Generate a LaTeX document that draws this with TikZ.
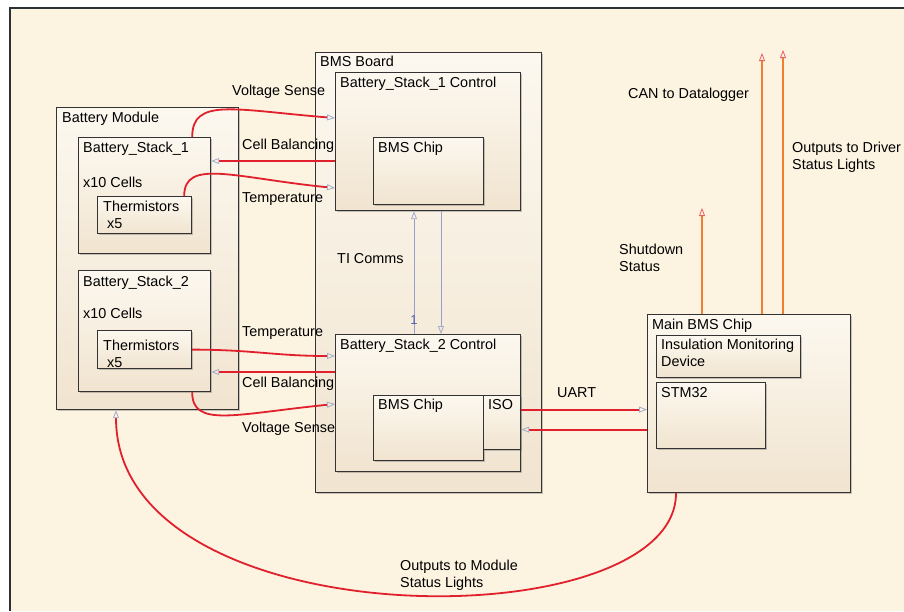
\documentclass[tikz,border=0pt]{standalone}
\usepackage{fontspec}
\setmainfont{Liberation Sans}
\usetikzlibrary{arrows.meta,calc,shadows}
\definecolor{bgc}{RGB}{253,243,225}
\definecolor{boxtop}{RGB}{252,248,239}
\definecolor{boxbot}{RGB}{241,228,208}
\definecolor{sigred}{RGB}{224,32,44}
\definecolor{sigorange}{RGB}{238,128,48}
\definecolor{tipc}{RGB}{165,170,200}
\definecolor{tipred}{RGB}{232,96,96}
\definecolor{tiline}{RGB}{152,160,200}
\definecolor{tiblue}{RGB}{80,96,176}
\definecolor{framec}{RGB}{43,50,54}

\begin{document}
\begin{tikzpicture}[x=1pt,y=-1pt,
    every node/.style={font=\fontsize{14.4}{16.8}\selectfont},
    blk/.style={draw=black!80,line width=1.2pt,anchor=north west,inner sep=0pt,
        top color=boxtop,bottom color=boxbot,
        drop shadow={shadow xshift=1.2pt,shadow yshift=-1.2pt,opacity=.3,fill=black!70}},
    lbl/.style={anchor=base west,inner sep=0pt,align=left},
    sig/.style={draw=sigred,line width=1.8pt,
        -{Triangle[open,length=8pt,width=6pt,color=tipc,line width=.8pt]}},
    outsig/.style={draw=sigorange,line width=1.8pt,
        -{Triangle[open,length=8pt,width=6pt,color=tipred,line width=.8pt]}},
    ti/.style={draw=tiline,line width=.8pt,
        -{Triangle[open,length=8pt,width=6pt,color=tipc,line width=.8pt]}}]

    \useasboundingbox (0,0) rectangle (904,611);
    \fill[bgc] (10,8) rectangle (904,611);
    \draw[framec,line width=2.5pt] (10,611) -- (10,8) -- (904,8);

    % battery module
    \node[blk,minimum width=182pt,minimum height=302pt] (BM) at (56,107) {};
    \node[blk,minimum width=132pt,minimum height=116pt] (S1) at (78,137) {};
    \node[blk,minimum width=94pt,minimum height=37pt] (T1) at (97,196) {};
    \node[blk,minimum width=132pt,minimum height=121pt] (S2) at (78,270) {};
    \node[blk,minimum width=94pt,minimum height=38pt] (T2) at (97,330) {};

    \node[lbl] (BMl) at ($(BM.north west)+(6,15)$) {Battery Module};
    \node[lbl] (S1l) at ($(S1.north west)+(5,15)$) {Battery\_Stack\_1};
    \node[lbl] (S1c) at ($(S1.north west)+(5,50)$) {x10 Cells};
    \node[lbl] (T1l) at ($(T1.north west)+(6,32)$) {Thermistors\\\ x5};
    \node[lbl] (S2l) at ($(S2.north west)+(5,16)$) {Battery\_Stack\_2};
    \node[lbl] (S2c) at ($(S2.north west)+(5,48)$) {x10 Cells};
    \node[lbl] (T2l) at ($(T2.north west)+(6,37)$) {Thermistors\\\ x5};

    % bms board
    \node[blk,minimum width=226pt,minimum height=440pt] (BB) at (315,52) {};
    \node[blk,minimum width=185pt,minimum height=138pt] (C1) at (335,72) {};
    \node[blk,minimum width=110pt,minimum height=67pt] (K1) at (373,137) {};
    \node[blk,minimum width=185pt,minimum height=137pt] (C2) at (335,334) {};
    \node[blk,minimum width=110pt,minimum height=65pt] (K2) at (373,395) {};
    \node[blk,minimum width=37pt,minimum height=54pt] (ISO) at (483,395) {};

    \node[lbl] (BBl) at ($(BB.north west)+(5,14)$) {BMS Board};
    \node[lbl] (C1l) at ($(C1.north west)+(5,15)$) {Battery\_Stack\_1 Control};
    \node[lbl] (K1l) at ($(K1.north west)+(5,15)$) {BMS Chip};
    \node[lbl] (C2l) at ($(C2.north west)+(5,15)$) {Battery\_Stack\_2 Control};
    \node[lbl] (K2l) at ($(K2.north west)+(5,14)$) {BMS Chip};
    \node[lbl] (ISOl) at ($(ISO.north west)+(5,14)$) {ISO};

    % main bms chip
    \node[blk,minimum width=203pt,minimum height=178pt] (M) at (647,314) {};
    \node[blk,minimum width=144pt,minimum height=42pt] (IMD) at (656,335) {};
    \node[blk,minimum width=109pt,minimum height=66pt] (STM) at (656,382) {};

    \node[lbl] (Ml) at ($(M.north west)+(5,15)$) {Main BMS Chip};
    \node[lbl] (IMDl) at ($(IMD.north west)+(5,31)$) {Insulation Monitoring\\Device};
    \node[lbl] (STMl) at ($(STM.north west)+(5,15)$) {STM32};

    % signal labels
    \node[lbl] (vs1) at (232,95) {Voltage Sense};
    \node[lbl] (cbl1) at (242,149) {Cell Balancing};
    \node[lbl] (tp1) at (242,202) {Temperature};
    \node[lbl] (tic) at (337,263) {TI Comms};
    \node[lbl] (tp2) at (242,336) {Temperature};
    \node[lbl] (cbl2) at (242,387) {Cell Balancing};
    \node[lbl] (vs2) at (242,432) {Voltage Sense};
    \node[lbl] (uart) at (557,397) {UART};
    \node[lbl] (canl) at (628,98) {CAN to Datalogger};
    \node[lbl] (drvl) at (792,169) {Outputs to Driver\\Status Lights};
    \node[lbl] (sdl) at (619,271) {Shutdown\\Status};
    \node[lbl] (modl) at (400,587) {Outputs to Module\\Status Lights};

    % stack 1 signals
    \draw[sig] ($(S1.north east)+(-19,0)$) .. controls +(0,-40) and +(-100,-8) .. ($(C1.north west)+(0,46)$);
    \coordinate (cb1) at ($(C1.north west)+(0,89)$);
    \draw[sig] (cb1) -- (cb1 -| S1.east);
    \draw[sig] ($(T1.north east)+(-8,0)$) .. controls +(0,-38) and +(-100,-10) .. ($(C1.north west)+(0,116)$);

    % stack 2 signals
    \draw[sig] (T2.east) .. controls +(60,0) and +(-60,0) .. ($(C2.north west)+(0,22)$);
    \coordinate (cb2) at ($(C2.north west)+(0,38)$);
    \draw[sig] (cb2) -- (cb2 -| S2.east);
    \draw[sig] ($(S2.south east)+(-19,0)$) .. controls +(0,36) and +(-100,10) .. ($(C2.north west)+(0,70)$);

    % ti comms
    \coordinate (tia) at (414,270);
    \coordinate (tib) at (441,270);
    \draw[ti] (C2.north -| tia) -- (C1.south -| tia);
    \draw[ti] (C1.south -| tib) -- (C2.north -| tib);
    \node[font=\fontsize{13}{15}\selectfont,text=tiblue,inner sep=0pt] (n1) at (414,320) {1};

    % uart
    \coordinate (u1) at ($(ISO.east)+(0,-13)$);
    \coordinate (u2) at ($(ISO.east)+(0,7)$);
    \draw[sig] (u1) -- (u1 -| M.west);
    \draw[sig] (u2 -| M.west) -- (u2);

    % outputs
    \coordinate (sd) at (702,208);
    \coordinate (can) at (762,53);
    \coordinate (drv) at (783,50);
    \draw[outsig] (M.north -| sd) -- (sd);
    \draw[outsig] (M.north -| can) -- (can);
    \draw[outsig] (M.north -| drv) -- (drv);

    \draw[sig] ($(M.south west)+(29,0)$) .. controls +(0,148) and +(0,231) .. ($(BM.south west)+(60,0)$);

\end{tikzpicture}
\end{document}
